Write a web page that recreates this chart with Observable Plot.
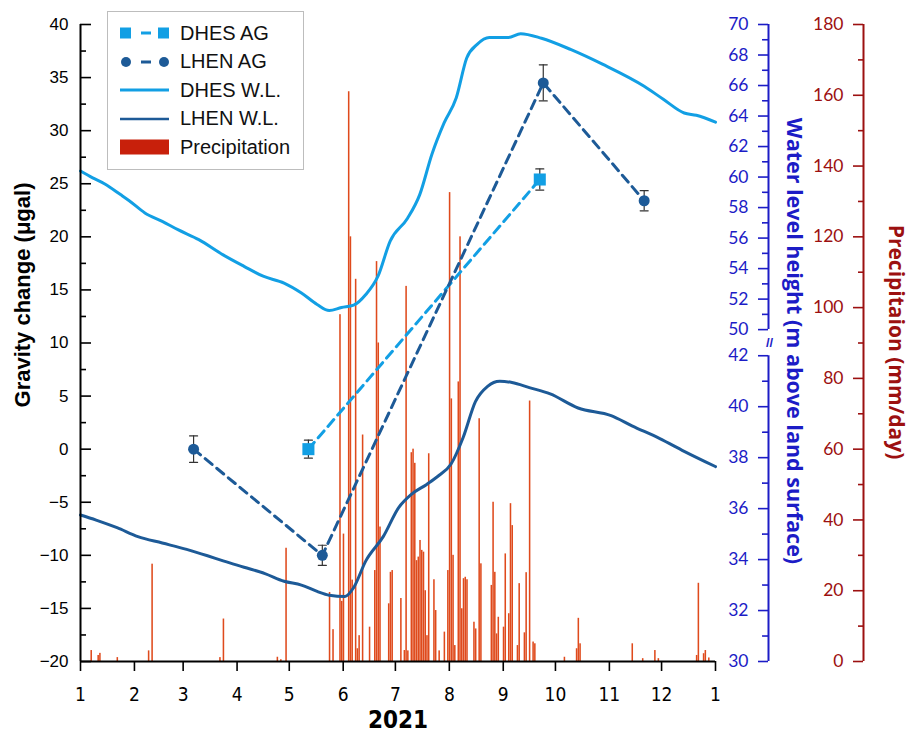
<!DOCTYPE html>
<html>
<head>
<meta charset="utf-8">
<script src="https://cdn.jsdelivr.net/npm/d3@7"></script>
<script src="https://cdn.jsdelivr.net/npm/@observablehq/plot@0.6"></script>
<style>
  body { margin: 0; background: #fff; }
  #chart { position: relative; width: 912px; height: 737px; overflow: hidden; }
  #chart > svg { position: absolute; left: 0; top: 0; }
  .legend { position: absolute; left: 107px; top: 11px; width: 197px; height: 159px; box-sizing: border-box;
            border: 1px solid #bdbdbd; background: #fff; padding-top: 7px;
            font-family: "Liberation Sans", Arial, sans-serif; font-size: 20px; color: #111; }
  .legend .row { display: flex; align-items: center; height: 28.5px; padding-left: 12px; }
  .legend svg { margin-right: 10px; flex: none; }
</style>
</head>
<body>
<div id="chart"></div>
<script>
// ---------------- data ----------------
const xTickDates = ["2021-01-01","2021-02-01","2021-03-01","2021-04-01","2021-05-01","2021-06-01","2021-07-01","2021-08-01","2021-09-01","2021-10-01","2021-11-01","2021-12-01","2022-01-01"];
const xTickLabels = ["1","2","3","4","5","6","7","8","9","10","11","12","1"];
const xTitle = "2021";

const gravityMajorTicks = [-20,-15,-10,-5,0,5,10,15,20,25,30,35,40];
const gravityMinorTicks = [-17.5,-12.5,-7.5,-2.5,2.5,7.5,12.5,17.5,22.5,27.5,32.5,37.5];
const gravityTitle = "Gravity change (\u03bcgal)";

const wlMajorTicks = [30,32,34,36,38,40,42,50,52,54,56,58,60,62,64,66,68,70];
const wlMinorTicks = [31,33,35,37,39,41,51,53,55,57,59,61,63,65,67,69];
const wlSegments = [[30,42],[50,70]];
const wlTitle = "Water level height (m above land surface)";

const precipMajorTicks = [0,20,40,60,80,100,120,140,160,180];
const precipMinorTicks = [10,30,50,70,90,110,130,150,170];
const precipTitle = "Precipitaion (mm/day)";

// absolute gravity (AG) campaigns
const dhesAgDates = ["2021-05-12","2021-09-22"];
const dhesAgValues = [0, 25.4];
const dhesAgErrors = [0.85, 1.0];
const lhenAgDates = ["2021-03-07","2021-05-20","2021-09-24","2021-11-21"];
const lhenAgValues = [0, -10, 34.5, 23.4];
const lhenAgErrors = [1.25, 0.95, 1.7, 0.95];

// water levels (m above land surface)
const dhesWlDates = ["2021-01-01","2021-01-08","2021-01-15","2021-01-24","2021-01-29","2021-02-07","2021-02-17","2021-02-26","2021-03-10","2021-03-24","2021-04-05","2021-04-16","2021-04-28","2021-05-08","2021-05-17","2021-05-24","2021-05-31","2021-06-07","2021-06-14","2021-06-21","2021-06-28","2021-07-08","2021-07-15","2021-07-22","2021-07-29","2021-08-05","2021-08-11","2021-08-17","2021-08-24","2021-09-04","2021-09-11","2021-09-23","2021-10-10","2021-10-28","2021-11-21","2021-12-02","2021-12-14","2021-12-21","2022-01-01"];
const dhesWlValues = [60.4,59.95,59.55,58.85,58.45,57.65,57.1,56.55,55.9,54.9,54.15,53.5,53.05,52.4,51.65,51.25,51.45,51.6,52.3,53.5,55.8,57.3,58.85,61.5,63.55,65.2,67.8,68.7,69.15,69.15,69.4,69.1,68.35,67.4,65.95,65.1,64.2,64.05,63.6];
const lhenWlDates = ["2021-01-01","2021-01-10","2021-01-22","2021-02-03","2021-02-17","2021-03-03","2021-03-15","2021-03-24","2021-04-05","2021-04-17","2021-04-28","2021-05-08","2021-05-17","2021-05-24","2021-06-02","2021-06-07","2021-06-14","2021-06-24","2021-07-03","2021-07-10","2021-07-19","2021-07-26","2021-08-02","2021-08-09","2021-08-16","2021-08-23","2021-08-30","2021-09-06","2021-09-16","2021-09-28","2021-10-14","2021-11-02","2021-11-14","2021-11-30","2021-12-14","2022-01-01"];
const lhenWlValues = [35.75,35.55,35.25,34.9,34.65,34.4,34.15,33.95,33.7,33.45,33.15,33.0,32.75,32.6,32.55,32.9,33.95,34.9,36.05,36.55,36.95,37.3,37.75,38.8,40.2,40.8,41.0,40.95,40.75,40.5,39.95,39.65,39.25,38.75,38.25,37.65];

// daily precipitation (mm/day)
const precipDates = ["2021-01-07","2021-01-11","2021-01-12","2021-01-22","2021-02-09","2021-02-11","2021-03-22","2021-03-24","2021-04-24","2021-04-26","2021-04-29","2021-05-24","2021-05-26","2021-05-30","2021-05-31","2021-06-01","2021-06-04","2021-06-05","2021-06-06","2021-06-08","2021-06-09","2021-06-10","2021-06-12","2021-06-16","2021-06-19","2021-06-20","2021-06-21","2021-06-22","2021-06-27","2021-06-28","2021-06-29","2021-07-04","2021-07-06","2021-07-07","2021-07-08","2021-07-10","2021-07-11","2021-07-12","2021-07-13","2021-07-14","2021-07-15","2021-07-16","2021-07-17","2021-07-18","2021-07-19","2021-07-20","2021-07-23","2021-07-24","2021-07-26","2021-07-29","2021-07-31","2021-08-01","2021-08-02","2021-08-03","2021-08-04","2021-08-06","2021-08-07","2021-08-08","2021-08-09","2021-08-10","2021-08-11","2021-08-15","2021-08-16","2021-08-18","2021-08-19","2021-08-25","2021-08-26","2021-08-27","2021-08-28","2021-08-29","2021-09-01","2021-09-02","2021-09-04","2021-09-05","2021-09-06","2021-09-09","2021-09-10","2021-09-13","2021-09-14","2021-09-16","2021-09-18","2021-09-19","2021-10-06","2021-10-13","2021-10-14","2021-10-15","2021-11-14","2021-11-20","2021-11-27","2021-11-29","2021-12-21","2021-12-22","2021-12-25","2021-12-26","2021-12-28"];
const precipValues = [3.1,1.7,2.3,1.1,3,27.5,1.1,12,1.2,0.5,32,19.5,9,98,17,36,161,120,23,108,3.6,7.3,64,9.7,25.7,113,90,38,16.3,25.2,25.7,17.8,3.1,106,3,59,60,56,28.5,29.5,34.2,31.4,30.9,20,7.3,58.7,23.1,14.4,3,8.3,25.7,132.5,74.2,30,4.5,79,120,14.9,23.4,23.8,23.1,11.1,9.2,68.6,27.6,21.5,45,25.2,7.8,12.5,9.7,30.4,13.5,44.6,38.4,4.5,22,8.1,25.1,73.6,5.5,5,1.2,3.6,12.2,5,5,0.8,3.1,0.8,1.7,22.1,2.2,3.1,1];

const legendLabels = ["DHES AG","LHEN AG","DHES W.L.","LHEN W.L.","Precipitation"];

// ---------------- styling ----------------
const dhesColor = "#129fe4";
const lhenColor = "#1d5a97";
const precipColor = "#df4a1c";
const precipLegendColor = "#c8200b";
const blueAxis = "#1c1cc6";
const redAxis = "#9c1010";
const narrowFont = "'Liberation Sans Narrow', 'Arial Narrow', 'DejaVu Sans Condensed', sans-serif";
const sansFont = "'Liberation Sans', Arial, sans-serif";
const calibriLike = "Lato, 'Open Sans', sans-serif";
const titleFont = "'Open Sans', Lato, sans-serif";

const W = 912, H = 737;
const margins = {marginTop: 24, marginRight: 197, marginBottom: 76, marginLeft: 80};
const frameBottom = H - margins.marginBottom, frameTop = margins.marginTop;
const utc = s => new Date(s + "T00:00:00Z");
const xDomain = [utc("2021-01-01"), utc("2022-01-01")];
const wlOffset = 688;      // blue axis shift from frame left
const precipOffset = 783;  // red axis shift from frame left
const wlBreakFractions = [0, 0.48, 0.521, 1];

const zip = (dates, values, extra) => dates.map((d, i) => ({date: utc(d), value: values[i], err: extra ? extra[i] : 0}));
const dhesAg = zip(dhesAgDates, dhesAgValues, dhesAgErrors);
const lhenAg = zip(lhenAgDates, lhenAgValues, lhenAgErrors);
const allAg = dhesAg.concat(lhenAg);
const dhesWl = zip(dhesWlDates, dhesWlValues);
const lhenWl = zip(lhenWlDates, lhenWlValues);
const precip = zip(precipDates, precipValues);
const xTicks = xTickDates.map(utc);

const baseStyle = {background: "transparent", overflow: "visible", fontFamily: sansFont};
const capShape = {draw(context, l) { context.moveTo(-l / 2, 0); context.lineTo(l / 2, 0); }};

// ---------------- layer 1: precipitation + right red axis ----------------
const precipPlot = Plot.plot({
  width: W, height: H, ...margins, style: baseStyle,
  x: {type: "utc", domain: xDomain, axis: null},
  y: {domain: [0, 180], axis: null},
  marks: [
    Plot.rectY(precip, {x: "date", y: "value", interval: "day", fill: precipColor, insetRight: 0.2}),
    Plot.ruleX([xDomain[0]], {dx: precipOffset, stroke: redAxis, strokeWidth: 2}),
    Plot.axisY(precipMinorTicks, {anchor: "left", dx: precipOffset, tickSize: 5, fill: "none", stroke: redAxis, strokeWidth: 1.6, label: null}),
    Plot.axisY(precipMajorTicks, {anchor: "left", dx: precipOffset, tickSize: 10, tickPadding: 10, stroke: redAxis, fill: redAxis, strokeWidth: 1.6, fontSize: 17.5, fontFamily: calibriLike, label: null}),
    Plot.text([precipTitle], {frameAnchor: "left", textAnchor: "middle", lineAnchor: "middle", dx: precipOffset + 32, dy: -1, rotate: 90, fill: redAxis, fontWeight: "bold", fontSize: 21, fontFamily: titleFont})
  ]
});

// ---------------- layer 2: water levels + blue broken axis ----------------
const wlRange = wlBreakFractions.map(f => frameBottom - f * (frameBottom - frameTop));
const wlPlot = Plot.plot({
  width: W, height: H, ...margins, style: baseStyle,
  x: {type: "utc", domain: xDomain, axis: null},
  y: {type: "linear", domain: [30, 42, 50, 70], range: wlRange, axis: null},
  marks: [
    Plot.line(dhesWl, {x: "date", y: "value", stroke: dhesColor, strokeWidth: 3, curve: "monotone-x"}),
    Plot.line(lhenWl, {x: "date", y: "value", stroke: lhenColor, strokeWidth: 3, curve: "monotone-x"}),
    Plot.ruleX(wlSegments, {x: () => xDomain[0], y1: d => d[0], y2: d => d[1], dx: wlOffset, stroke: blueAxis, strokeWidth: 2}),
    Plot.text(["//"], {x: () => xDomain[0], y: () => (wlSegments[0][1] + wlSegments[1][0]) / 2, dx: wlOffset + 1, fill: blueAxis, fontSize: 13, fontWeight: "bold"}),
    Plot.axisY(wlMinorTicks, {anchor: "left", dx: wlOffset, tickSize: 6, fill: "none", stroke: blueAxis, strokeWidth: 1.6, label: null}),
    Plot.axisY(wlMajorTicks, {anchor: "left", dx: wlOffset, tickSize: 10, tickPadding: 10, stroke: blueAxis, fill: blueAxis, strokeWidth: 1.6, fontSize: 17.5, fontFamily: calibriLike, label: null}),
    Plot.text([wlTitle], {frameAnchor: "left", textAnchor: "middle", lineAnchor: "middle", dx: wlOffset + 25, dy: -2, rotate: 90, fill: blueAxis, fontWeight: "bold", fontSize: 21.5, fontFamily: titleFont})
  ]
});

// ---------------- layer 3: gravity (main axes, AG points) ----------------
const gPlot = Plot.plot({
  width: W, height: H, ...margins, style: baseStyle,
  x: {type: "utc", domain: xDomain},
  y: {domain: [-20, 40]},
  marks: [
    Plot.axisX(xTicks, {anchor: "bottom", tickSize: 10, tickPadding: 16, strokeWidth: 1.6,
      tickFormat: d => xTickLabels[xTicks.findIndex(t => +t === +d)], fontSize: 19, fontFamily: narrowFont, label: null}),
    Plot.axisY(gravityMinorTicks, {anchor: "left", tickSize: -6, fill: "none", strokeWidth: 1.6, label: null}),
    Plot.axisY(gravityMajorTicks, {anchor: "left", tickSize: -11, tickPadding: 23, strokeWidth: 1.6, fontSize: 17, label: null}),
    Plot.ruleY([-20], {stroke: "#000", strokeWidth: 2}),
    Plot.ruleX([xDomain[0]], {stroke: "#000", strokeWidth: 2}),
    Plot.text([xTitle], {frameAnchor: "bottom", textAnchor: "middle", lineAnchor: "middle", dy: 59, fontSize: 24, fontWeight: "bold", fontFamily: narrowFont}),
    Plot.text([gravityTitle], {frameAnchor: "left", textAnchor: "middle", lineAnchor: "middle", dx: -58, dy: -48, rotate: -90, fontSize: 22, fontWeight: "bold"}),
    Plot.line(dhesAg, {x: "date", y: "value", stroke: dhesColor, strokeWidth: 3, strokeDasharray: "9,6"}),
    Plot.line(lhenAg, {x: "date", y: "value", stroke: lhenColor, strokeWidth: 3, strokeDasharray: "9,6"}),
    Plot.ruleX(allAg, {x: "date", y1: d => d.value - d.err, y2: d => d.value + d.err, stroke: "#333", strokeWidth: 1.2}),
    Plot.vector(allAg, {x: "date", y: d => d.value + d.err, length: 8, anchor: "start", shape: capShape, stroke: "#333", strokeWidth: 1.2}),
    Plot.vector(allAg, {x: "date", y: d => d.value - d.err, length: 8, anchor: "start", shape: capShape, stroke: "#333", strokeWidth: 1.2}),
    Plot.dot(dhesAg, {x: "date", y: "value", symbol: "square", r: 6.8, fill: dhesColor}),
    Plot.dot(lhenAg, {x: "date", y: "value", r: 5.5, fill: lhenColor})
  ]
});

const chart = document.getElementById("chart");
chart.append(precipPlot, wlPlot, gPlot);

// ---------------- legend ----------------
const swatches = [
  `<svg width="50" height="20"><rect x="0" y="4.5" width="11" height="11" fill="${dhesColor}"/><line x1="21" y1="10" x2="31" y2="10" stroke="${dhesColor}" stroke-width="3"/><rect x="38" y="4.5" width="11" height="11" fill="${dhesColor}"/></svg>`,
  `<svg width="50" height="20"><circle cx="6" cy="10" r="5" fill="${lhenColor}"/><line x1="21" y1="10" x2="31" y2="10" stroke="${lhenColor}" stroke-width="3"/><circle cx="44" cy="10" r="5" fill="${lhenColor}"/></svg>`,
  `<svg width="50" height="20"><line x1="0" y1="10" x2="49" y2="10" stroke="${dhesColor}" stroke-width="3"/></svg>`,
  `<svg width="50" height="20"><line x1="0" y1="10" x2="49" y2="10" stroke="${lhenColor}" stroke-width="2.6"/></svg>`,
  `<svg width="50" height="20"><rect x="0" y="2.5" width="49" height="15" fill="${precipLegendColor}"/></svg>`
];
const legend = document.createElement("div");
legend.className = "legend";
legend.innerHTML = legendLabels.map((t, i) => `<div class="row">${swatches[i]}<span>${t}</span></div>`).join("");
chart.append(legend);
</script>
</body>
</html>
